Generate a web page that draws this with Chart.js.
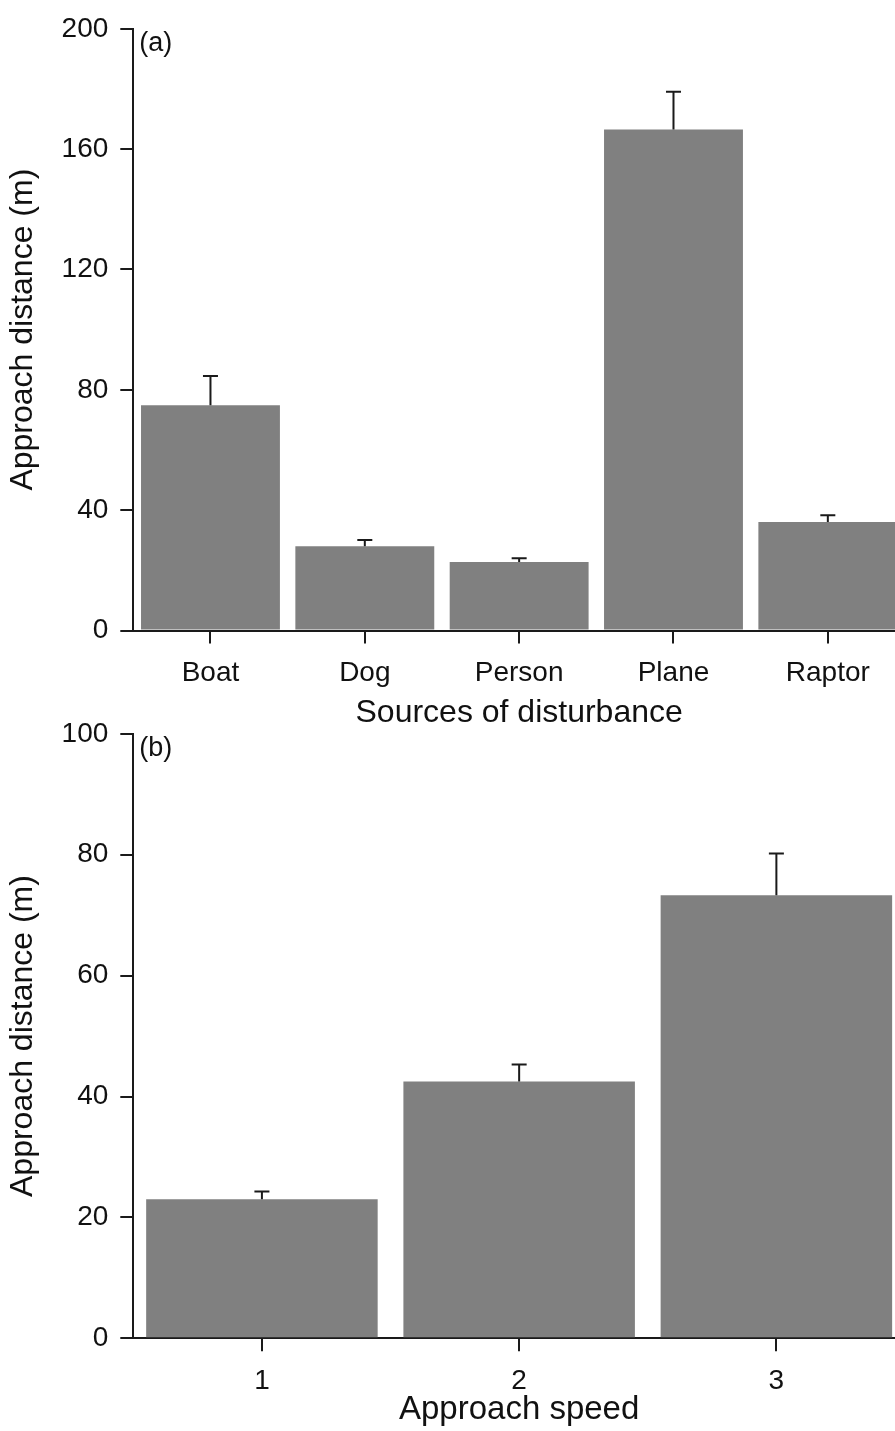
<!DOCTYPE html>
<html>
<head>
<meta charset="utf-8">
<script src="https://cdn.jsdelivr.net/npm/chart.js@4.4.1/dist/chart.umd.min.js"></script>
<style>
    body { margin: 0; background: #fff; overflow: hidden; }
    canvas { position: absolute; left: 0; }
</style>
</head>
<body>
<canvas id="chartA" width="905" height="735" style="top:0px"></canvas>
<canvas id="chartB" width="905" height="726" style="top:705px"></canvas>
<script>
// (a) sources of disturbance
const sourceLabels = ['Boat', 'Dog', 'Person', 'Plane', 'Raptor']
const sourceMeans = [74.9, 28.0, 22.8, 166.5, 36.1]
const sourceErrors = [9.7, 2.1, 1.2, 12.6, 2.2]
const sourceTicks = [0, 40, 80, 120, 160, 200]

// (b) approach speed
const speedLabels = ['1', '2', '3']
const speedMeans = [23.0, 42.5, 73.3]
const speedErrors = [1.3, 2.8, 6.9]
const speedTicks = [0, 20, 40, 60, 80, 100]

const Figure = (function () {
    const _ink = '#1a1a1a'
    const _family = "'Liberation Sans', Arial, sans-serif"

    Chart.defaults.font.family = _family
    Chart.defaults.color = '#111'

    // upper whiskers only, as in the original figure
    const _errorBars = {
        id: 'errorBars',
        afterDatasetsDraw: function (chart, args, opts) {
            const ctx = chart.ctx
            const meta = chart.getDatasetMeta(0)
            const y = chart.scales.y
            const values = chart.data.datasets[0].data
            ctx.save()
            ctx.strokeStyle = _ink
            ctx.lineWidth = 2
            meta.data.forEach(function (bar, i) {
                const yTop = y.getPixelForValue(values[i] + opts.errors[i])
                const yBar = y.getPixelForValue(values[i])
                ctx.beginPath()
                ctx.moveTo(bar.x, yBar)
                ctx.lineTo(bar.x, yTop)
                ctx.moveTo(bar.x - 7.5, yTop)
                ctx.lineTo(bar.x + 7.5, yTop)
                ctx.stroke()
            })
            ctx.restore()
        }
    }

    const _panelLabel = {
        id: 'panelLabel',
        afterDraw: function (chart, args, opts) {
            const ctx = chart.ctx
            ctx.save()
            ctx.font = '27px ' + _family
            ctx.fillStyle = '#111'
            ctx.textBaseline = 'alphabetic'
            ctx.fillText(opts.text, chart.chartArea.left + 6, chart.chartArea.top + opts.dy)
            ctx.restore()
        }
    }

    const _makeChart = function (id, cfg) {
        return new Chart(document.getElementById(id), {
            type: 'bar',
            data: {
                labels: cfg.labels,
                datasets: [{
                    data: cfg.means,
                    backgroundColor: '#808080',
                    borderWidth: 0,
                    barPercentage: 0.9,
                    categoryPercentage: 1.0
                }]
            },
            options: {
                responsive: false,
                animation: false,
                layout: { padding: { top: cfg.top, left: 0, right: 0, bottom: 0 } },
                plugins: {
                    legend: { display: false },
                    tooltip: { enabled: false },
                    errorBars: { errors: cfg.errors },
                    panelLabel: { text: cfg.panel, dy: 22.5 }
                },
                scales: {
                    x: {
                        z: 1,
                        grid: { offset: false, drawOnChartArea: false, tickLength: 13, color: _ink, lineWidth: 2 },
                        border: { display: true, color: _ink, width: 2 },
                        ticks: { padding: 13, font: { size: 28 }, color: '#111' },
                        title: { display: true, text: cfg.xTitle, font: { size: cfg.titleSize }, color: '#111', padding: { top: 0, bottom: cfg.titlePad } },
                        afterFit: function (scale) { scale.height = cfg.xHeight }
                    },
                    y: {
                        z: 1,
                        min: cfg.ticks[0],
                        max: cfg.ticks[cfg.ticks.length - 1],
                        afterBuildTicks: function (scale) {
                            scale.ticks = cfg.ticks.map(v => ({ value: v }))
                        },
                        grid: { drawOnChartArea: false, tickLength: 13, color: _ink, lineWidth: 2 },
                        border: { display: true, color: _ink, width: 2 },
                        ticks: { padding: 12, font: { size: 28 }, color: '#111' },
                        title: { display: true, text: 'Approach distance (m)', font: { size: 32 }, color: '#111', padding: { top: 4, bottom: 0 } },
                        afterFit: function (scale) { scale.width = 133.3 }
                    }
                }
            },
            plugins: [_errorBars, _panelLabel]
        })
    }

    const init = function () {
        _makeChart('chartA', {
            labels: sourceLabels, means: sourceMeans, errors: sourceErrors, ticks: sourceTicks,
            panel: '(a)', xTitle: 'Sources of disturbance', titleSize: 32,
            top: 24.5, xHeight: 104.5, titlePad: 3
        })
        _makeChart('chartB', {
            labels: speedLabels, means: speedMeans, errors: speedErrors, ticks: speedTicks,
            panel: '(b)', xTitle: 'Approach speed', titleSize: 33,
            top: 27.7, xHeight: 92.7, titlePad: 1
        })
    }

    return { init: init }
})()

Figure.init()
</script>
</body>
</html>
